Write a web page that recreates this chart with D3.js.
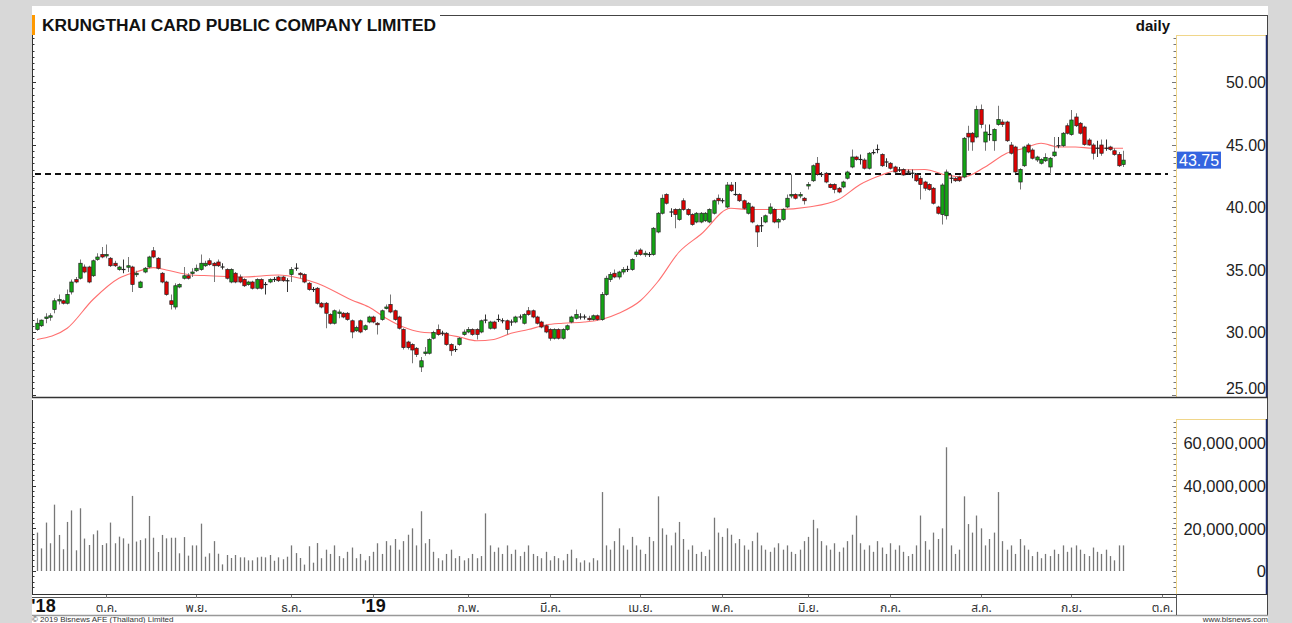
<!DOCTYPE html>
<html><head><meta charset="utf-8">
<script src="https://cdn.jsdelivr.net/npm/d3@7/dist/d3.min.js"></script>
<style>html,body{margin:0;padding:0;background:#d8d8d8;}svg{display:block;}</style>
</head><body>
<svg id="c" width="1292" height="623"></svg>
<script>
const title = "KRUNGTHAI CARD PUBLIC COMPANY LIMITED";
const period = "daily";
const lastPrice = 43.75;
const refLine = 42.64;
const priceTicks = [25, 30, 35, 40, 45, 50];
const volTicks = [0, 20, 40, 60]; // millions
const monthLabels = ["'18","ต.ค.","พ.ย.","ธ.ค.","'19","ก.พ.","มี.ค.","เม.ย.","พ.ค.","มิ.ย.","ก.ค.","ส.ค.","ก.ย.","ต.ค."];
const monthIdx = [1.5,16,37,59,78,100,119,140,159,179,198,219,240,261];
const yearLabel = [true,false,false,false,true,false,false,false,false,false,false,false,false,false];

const open = [
30.2,30.5,31.1,31.2,31.8,32.5,32.5,32.3,33.2,34.2, 34.3,35.2,35.2,34.5,35.8,36.2,36.1,35.9,35.5,35.0,
35.0,35.2,35.2,34.6,33.55,34.8,35.2,36.5,35.9,34.7, 34.0,32.5,32.0,33.6,34.3,34.5,34.7,34.9,35.0,35.3,
35.7,35.5,35.6,35.2,35.0,34.0,34.7,34.4,34.2,33.8, 34.0,33.5,34.2,33.8,34.0,34.2,34.4,34.4,34.1,34.6,
35.1,34.7,34.6,33.9,33.4,33.5,32.3,32.3,31.4,30.7, 31.5,31.5,31.5,30.9,30.1,30.9,30.2,30.8,31.2,30.7,
31.0,31.9,32.2,31.7,31.2,30.2,29.2,29.0,28.7,27.2, 28.3,28.3,29.5,30.2,29.9,29.9,29.0,28.6,29.0,29.8,
30.0,30.2,30.2,30.0,30.9,30.3,30.8,31.0,30.9,30.9, 30.8,30.8,31.2,30.7,31.7,31.7,31.2,30.8,30.5,30.2,
29.5,30.2,29.5,30.2,30.8,31.1,31.2,31.2,31.1,31.0, 31.3,31.0,33.0,34.2,34.7,34.4,34.8,35.0,35.0,36.2,
36.56,36.2,36.2,36.2,38.0,39.5,41.0,39.6,39.8,39.0, 40.5,39.8,39.4,38.8,38.8,38.9,38.8,39.5,40.7,40.5,
40.0,41.76,41.0,41.0,40.5,39.5,40.0,38.5,38.5,38.8, 39.5,39.8,38.8,39.0,40.0,40.9,41.0,40.9,40.7,41.7,
42.1,43.5,42.6,42.7,41.8,41.8,41.5,41.6,42.3,43.2, 44.0,43.8,43.76,43.1,44.3,44.6,44.2,43.6,43.5,43.2,
43.0,43.0,42.8,42.7,42.6,42.3,42.0,41.8,41.5,40.0, 39.4,39.3,42.3,42.3,42.4,42.4,45.9,45.9,45.6,47.8,
45.2,45.8,45.3,46.6,46.8,46.8,44.96,44.8,42.0,43.3, 44.96,44.56,43.76,43.5,43.7,43.2,44.1,44.9,44.9,46.5,
45.8,47.2,46.7,46.4,45.36,44.96,44.7,44.96,44.7,44.8, 44.5,44.2,43.4];
const high = [
31.1,31.0,31.5,31.5,32.7,33.0,32.6,33.4,34.2,34.4, 35.8,35.4,35.3,35.8,36.3,36.8,37.0,36.0,35.7,35.3,
35.8,36.0,35.3,34.9,34.1,35.2,36.1,36.8,36.0,34.8, 34.1,33.0,33.9,33.9,35.2,34.7,35.1,35.4,36.2,35.7,
35.9,35.6,35.8,35.5,35.1,35.1,34.8,34.6,34.3,34.1, 34.1,34.3,34.3,34.0,34.3,34.4,34.5,34.5,34.3,35.2,
35.5,34.8,34.7,34.0,33.6,33.6,32.4,32.4,31.5,31.8, 31.8,31.6,31.6,31.0,30.5,31.0,30.6,31.3,31.3,30.8,
31.8,32.2,33.0,31.8,31.3,30.3,29.3,29.1,28.8,28.0, 28.8,29.5,30.1,30.6,30.1,30.0,29.1,28.9,29.6,30.2,
30.4,30.3,30.3,31.0,31.4,30.9,30.9,31.4,31.1,31.0, 31.0,31.3,31.4,31.5,32.0,31.8,31.3,30.9,30.6,30.3,
30.3,30.3,30.3,30.6,31.3,31.8,31.5,31.4,31.3,31.4, 31.4,33.2,34.5,34.8,35.0,34.9,35.2,35.3,35.9,36.6,
36.7,36.5,36.4,38.4,39.6,41.0,41.1,39.9,39.9,39.9, 40.7,39.9,39.5,39.6,39.6,39.6,39.9,40.6,41.0,40.7,
42.0,42.0,42.0,41.1,40.6,40.4,40.1,38.6,39.2,39.4, 40.3,39.9,39.1,39.9,41.0,42.6,41.1,41.2,40.8,42.0,
43.4,44.0,42.8,42.8,41.9,41.9,41.6,42.1,42.9,44.6, 44.1,44.2,43.9,44.4,44.6,45.0,44.3,43.9,43.6,43.3,
43.2,43.1,43.0,43.0,42.7,42.5,42.1,41.9,41.6,40.1, 41.9,43.0,42.6,42.4,42.5,45.6,46.5,46.0,48.1,48.2,
46.6,46.6,46.3,48.1,47.0,46.9,45.2,44.9,43.1,44.9, 45.1,44.7,44.1,43.9,44.3,44.0,45.6,45.6,46.0,46.7,
47.76,47.5,46.8,46.5,45.5,45.1,45.3,45.4,45.4,44.9, 44.7,44.4,44.5];
const low = [
30.1,30.4,30.7,30.9,31.5,32.2,32.2,32.2,33.0,33.9, 34.2,34.7,33.9,34.4,35.7,35.9,35.9,35.2,35.2,34.9,
34.7,34.8,33.2,34.4,33.5,34.7,35.1,35.9,35.0,33.9, 32.9,31.8,31.8,33.5,34.2,34.2,34.4,34.8,34.9,35.2,
35.3,34.0,35.2,35.0,34.2,33.9,33.9,33.9,33.6,33.7, 33.4,33.4,33.4,33.0,33.9,34.0,34.0,34.0,33.2,34.0,
34.9,34.3,33.9,33.3,33.2,32.2,31.9,30.3,30.6,30.6, 31.1,31.1,30.9,29.5,30.0,29.9,30.1,30.7,30.7,29.8,
30.9,31.8,31.5,30.9,30.2,28.6,28.6,27.5,28.0,26.8, 28.1,28.2,29.4,29.7,29.7,28.9,28.1,28.4,28.9,29.7,
29.9,29.7,29.4,29.9,30.7,30.2,30.2,30.8,30.7,29.8, 30.5,30.7,31.0,30.6,31.3,31.1,30.6,30.3,29.9,29.3,
29.4,29.4,29.4,30.1,30.7,31.0,31.0,31.0,30.9,30.9, 30.9,30.9,32.9,34.0,34.3,34.2,34.6,34.8,34.9,36.0,
36.1,36.0,36.0,36.1,37.9,39.4,40.2,39.2,38.3,38.9, 39.7,39.3,38.5,38.7,38.7,38.8,38.7,39.4,40.2,40.3,
39.9,41.2,40.9,40.4,39.8,39.4,38.7,36.8,38.0,38.7, 39.4,38.7,38.3,38.9,39.9,40.7,40.6,40.7,40.2,41.4,
42.0,42.5,42.4,41.9,41.5,41.1,41.1,41.5,42.2,43.1, 43.7,43.4,43.0,43.0,44.2,44.3,43.2,43.2,43.0,42.7,
42.8,42.5,42.6,42.3,42.0,40.6,41.3,41.3,40.2,39.4, 38.6,39.0,41.9,42.0,42.0,42.3,44.5,44.5,45.5,46.3,
44.5,45.3,44.5,46.5,46.4,45.2,44.2,42.7,41.4,43.2, 44.3,43.8,43.6,43.4,43.6,42.6,44.0,44.7,44.8,45.8,
45.7,46.4,45.8,44.9,44.9,43.8,44.0,44.1,44.5,44.5, 44.1,43.2,43.2];
const close = [
30.7,30.95,31.2,31.3,32.5,32.6,32.3,33.0,34.0,34.0, 35.5,34.8,34.0,35.7,36.0,36.0,36.2,35.3,35.3,35.2,
35.0,35.3,33.8,34.7,34.0,35.1,36.0,36.0,35.1,34.0, 33.0,32.2,33.7,33.8,34.5,34.3,34.8,35.1,35.5,35.5,
35.4,35.3,35.3,35.2,34.3,35.0,34.0,34.0,33.7,34.0, 33.5,34.2,33.5,33.8,34.2,34.2,34.1,34.1,34.1,35.0,
35.1,34.6,34.0,33.4,33.4,32.3,32.0,31.5,30.7,31.7, 31.6,31.2,31.0,30.0,30.35,30.0,30.5,31.2,30.8,30.6,
31.7,32.0,31.6,31.0,30.3,28.75,28.75,28.56,28.2,27.7, 28.4,29.4,29.97,29.8,29.9,29.0,28.5,28.6,29.5,30.0,
30.2,29.8,29.8,30.9,30.95,30.8,30.3,31.0,30.9,30.2, 30.8,31.2,31.2,31.4,31.4,31.2,30.7,30.4,30.0,29.5,
30.2,29.5,30.2,30.5,31.2,31.4,31.2,31.2,31.0,31.3, 31.0,33.0,34.3,34.6,34.4,34.8,35.0,35.0,35.8,36.4,
36.2,36.3,36.2,38.3,39.5,40.7,40.3,39.6,39.4,39.8, 39.8,39.4,38.6,39.5,39.5,39.5,39.8,40.5,40.5,40.5,
41.76,41.3,41.0,40.5,39.9,40.3,38.8,38.0,38.5,39.3, 40.0,38.8,39.0,39.8,40.7,41.0,40.7,41.0,40.5,41.8,
43.3,42.6,42.6,42.0,41.55,41.4,41.2,42.0,42.8,44.0, 43.8,43.8,43.1,44.3,44.35,44.6,43.3,43.6,43.1,42.8,
42.96,42.56,42.8,42.7,42.1,41.8,41.5,41.4,40.3,39.5, 41.76,42.8,42.3,42.1,42.1,45.5,45.6,45.2,47.8,46.6,
46.0,45.8,46.2,47.0,46.6,45.3,44.3,42.8,43.0,44.8, 44.4,43.9,44.0,43.8,43.96,43.9,44.4,44.9,45.9,45.9,
46.96,46.5,45.9,45.0,44.96,44.3,44.7,44.3,44.7,44.6, 44.2,43.3,43.75];
// volume in millions of shares
const volume = [
18.0,10.6,22.7,13,31.1,16.9,10.2,23,28.4,9.7, 29.4,15.2,12.2,17.2,19,12.2,13,22.7,13,16.1,
15.3,12.8,35.2,13.8,14.5,15.3,25.8,15.6,8.9,16.9, 15.3,15.6,15.6,8.3,15.9,7.2,12,12,22.2,6.7,
8.3,14,8.1,3.1,7.5,6.1,7.5,6.4,6.4,5, 5,6.4,6.7,6.4,7.5,4.8,6.4,5.5,6.7,12,
8.4,6.1,3,11.6,3.9,13.1,6,10,8,12, 7,6,9,11,6,8,5,7,9,13,
8,14,12,15,10,14,17,20,12,28, 13,15,9,6,5,8,10,6,7,5,
6,8,6,7,27,12,9,11,8,12, 8,10,7,9,12,8,7,6,9,5,
7,6,5,8,10,6,4,5,4,6, 5,37,12,10,14,20,12,10,16,12,
10,8,16,14,35,20,17,12,18,23, 15,10,12,8,9,7,10,25,18,16,
20,17,13,15,12,10,14,18,12,10, 9,11,13,10,12,9,8,10,14,16,
24,20,14,12,10,13,9,11,14,17, 26,13,10,12,9,14,11,8,13,10,
12,9,7,8,12,26,14,10,18,15, 20,58,12,8,10,35,22,18,26,20,
12,15,18,37,14,10,12,8,15,12, 10,7,9,6,8,7,10,8,12,9,
11,12,10,8,7,11,9,8,10,7, 5,12,12];
// moving average: [candle index, value]
const maPoints = [[0,29.4],[7,30.3],[13,32.6],[19,34.3],[23,34.8],[27,35.15],[30,34.96],[36,34.56],[40,34.5],[48,34.4],
[56,34.56],[61,34.3],[65,33.9],[73,32.56],[77,32.0],[81,31.1],[85,30.4],[89,30.0],[93,29.9],[98,29.6],[102,29.3],
[106,29.4],[110,29.9],[114,30.2],[118,30.56],[122,30.7],[127,30.8],[131,31.0],[135,31.5],[140,32.5],[144,34.0],
[149,36.4],[154,37.8],[161,39.9],[165,39.8],[172,39.8],[179,40.0],[186,40.6],[191,41.8],[196,42.56],[200,42.96],
[206,43.0],[211,42.56],[215,42.4],[220,43.2],[225,44.3],[229,44.7],[233,45.1],[237,44.8],[241,44.8],[245,44.7],[252,44.7]];

const svg = d3.select("#c");
const W = 1292, H = 623;
const L = 32, R = 1268, AX = 1176;
const pTop = 35, pBot = 397, vTop = 400, vBot = 594, xBot = 615;
const FONT = '"Liberation Sans", Arial, sans-serif';
const THAI = 'Tahoma, "Noto Sans Thai", "Noto Sans", "Liberation Sans", sans-serif';

svg.append("rect").attr("width", W).attr("height", H).attr("fill", "#d8d8d8");
svg.append("rect").attr("x", L).attr("y", 6).attr("width", R - L).attr("height", H - 6).attr("fill", "#fff");

const n = close.length;
const x = d3.scaleLinear().domain([0, n - 1]).range([37, 1123]);
const yP = d3.scaleLinear().domain([25, 50]).range([394.5, 82]);
const yV = d3.scaleLinear().domain([0, 60]).range([571, 443]);

// title
svg.append("rect").attr("x", 32).attr("y", 15).attr("width", 3).attr("height", 20).attr("fill", "#ff9900");
svg.append("text").attr("x", 42).attr("y", 31).attr("font-family", FONT).attr("font-weight", "bold")
  .attr("font-size", 16).attr("textLength", 394).attr("lengthAdjust", "spacingAndGlyphs").attr("fill", "#111").text(title);
svg.append("text").attr("x", 1170).attr("y", 31).attr("text-anchor", "end").attr("font-family", FONT)
  .attr("font-weight", "bold").attr("font-size", 15).attr("fill", "#111").text(period);
svg.append("line").attr("x1", 440).attr("x2", R).attr("y1", 15.5).attr("y2", 15.5).attr("stroke", "#444");
svg.append("line").attr("x1", R - 0.5).attr("x2", R - 0.5).attr("y1", 15).attr("y2", xBot).attr("stroke", "#444");

// ---------- price panel ----------
const gP = svg.append("g");
gP.append("line").attr("x1", L + 0.5).attr("x2", L + 0.5).attr("y1", pTop).attr("y2", pBot).attr("stroke", "#333");
d3.range(25, 53.6, 0.5).forEach(v => {
  const major = Math.abs(v % 5) < 1e-6;
  gP.append("line").attr("x1", L).attr("x2", L + (major ? 4 : 2.5)).attr("y1", Math.round(yP(v)) + 0.5).attr("y2", Math.round(yP(v)) + 0.5).attr("stroke", "#333");
  gP.append("line").attr("x1", AX - (major ? 4 : 2.5)).attr("x2", AX).attr("y1", Math.round(yP(v)) + 0.5).attr("y2", Math.round(yP(v)) + 0.5).attr("stroke", "#777");
});
gP.append("line").attr("x1", AX + 0.5).attr("x2", AX + 0.5).attr("y1", pTop).attr("y2", pBot).attr("stroke", "#f0d68a");
gP.append("line").attr("x1", AX).attr("x2", R - 1).attr("y1", pTop + 0.5).attr("y2", pTop + 0.5).attr("stroke", "#f0d68a");
gP.append("line").attr("x1", R - 1.5).attr("x2", R - 1.5).attr("y1", pTop).attr("y2", pBot).attr("stroke", "#1c2a6e").attr("stroke-width", 1.5);

const axP = d3.axisLeft(yP).tickValues(priceTicks).tickFormat(d3.format(".2f")).tickSize(0).tickPadding(0);
const gAxP = gP.append("g").attr("transform", `translate(${R - 2},0)`).call(axP);
gAxP.select(".domain").remove();
gAxP.selectAll("text").attr("font-family", FONT).attr("font-size", 16).attr("fill", "#222")
  .attr("dy", "0.35em").attr("y", d => d === 25 ? -7 : 0);

gP.append("line").attr("x1", 35).attr("x2", 1168).attr("y1", yP(refLine)).attr("y2", yP(refLine))
  .attr("stroke", "#111").attr("stroke-width", 2).attr("stroke-dasharray", "6,4");

const maLine = d3.line().x(d => x(d[0])).y(d => yP(d[1])).curve(d3.curveMonotoneX);
gP.append("path").attr("d", maLine(maPoints)).attr("fill", "none").attr("stroke", "#ff7070").attr("stroke-width", 1.1);

const idx = d3.range(n);
const gC = gP.append("g");
gC.selectAll("line.w").data(idx).join("line").attr("class", "w")
  .attr("x1", i => Math.round(x(i)) + 0.5).attr("x2", i => Math.round(x(i)) + 0.5)
  .attr("y1", i => yP(high[i])).attr("y2", i => yP(low[i]))
  .attr("stroke", i => Math.abs(open[i] - close[i]) < 0.06 ? "#333" : "#777").attr("stroke-width", 1);
gC.selectAll("rect.b").data(idx.filter(i => Math.abs(open[i] - close[i]) >= 0.06)).join("rect").attr("class", "b")
  .attr("x", i => Math.round(x(i)) - 1.2).attr("width", 3.4)
  .attr("y", i => yP(Math.max(open[i], close[i])))
  .attr("height", i => Math.max(1.5, yP(Math.min(open[i], close[i])) - yP(Math.max(open[i], close[i]))))
  .attr("fill", i => close[i] > open[i] ? "#14a514" : "#e00000")
  .attr("stroke", "#222").attr("stroke-width", 0.7);
gC.selectAll("line.d").data(idx.filter(i => Math.abs(open[i] - close[i]) < 0.06)).join("line").attr("class", "d")
  .attr("x1", i => Math.round(x(i)) - 1.5).attr("x2", i => Math.round(x(i)) + 2.5)
  .attr("y1", i => yP(close[i])).attr("y2", i => yP(close[i])).attr("stroke", "#222").attr("stroke-width", 1.2);

gP.append("rect").attr("x", AX + 1).attr("y", yP(lastPrice) - 8.5).attr("width", 44).attr("height", 17).attr("fill", "#3465e0");
gP.append("text").attr("x", AX + 3).attr("y", yP(lastPrice)).attr("dy", "0.36em").attr("font-family", FONT)
  .attr("font-size", 16).attr("fill", "#fff").text(lastPrice.toFixed(2));

svg.append("line").attr("x1", L).attr("x2", R).attr("y1", pBot + 0.5).attr("y2", pBot + 0.5).attr("stroke", "#333").attr("stroke-width", 1.5);

// ---------- volume panel ----------
const gV = svg.append("g");
gV.append("line").attr("x1", L + 0.5).attr("x2", L + 0.5).attr("y1", vTop).attr("y2", vBot).attr("stroke", "#333");
d3.range(-10, 72, 2.5).forEach(v => {
  const yy = yV(v); if (yy < vTop + 2 || yy > vBot - 2) return;
  const major = Math.abs(v % 20) < 1e-6;
  gV.append("line").attr("x1", L).attr("x2", L + (major ? 4 : 2.5)).attr("y1", Math.round(yy) + 0.5).attr("y2", Math.round(yy) + 0.5).attr("stroke", "#333");
  if (yy > 419) gV.append("line").attr("x1", AX - (major ? 4 : 2.5)).attr("x2", AX).attr("y1", Math.round(yy) + 0.5).attr("y2", Math.round(yy) + 0.5).attr("stroke", "#777");
});
gV.append("line").attr("x1", AX + 0.5).attr("x2", AX + 0.5).attr("y1", 419).attr("y2", vBot).attr("stroke", "#f0d68a");
gV.append("line").attr("x1", AX).attr("x2", R - 1).attr("y1", 419.5).attr("y2", 419.5).attr("stroke", "#f0d68a");
gV.append("line").attr("x1", R - 1.5).attr("x2", R - 1.5).attr("y1", 419).attr("y2", vBot).attr("stroke", "#1c2a6e").attr("stroke-width", 1.5);

const axV = d3.axisLeft(yV).tickValues(volTicks).tickFormat(d => d3.format(",")(d * 1e6)).tickSize(0).tickPadding(0);
const gAxV = gV.append("g").attr("transform", `translate(${R - 2},0)`).call(axV);
gAxV.select(".domain").remove();
gAxV.selectAll("text").attr("font-family", FONT).attr("font-size", 16.5).attr("fill", "#222").attr("dy", "0.35em");

gV.selectAll("line.v").data(idx).join("line").attr("class", "v")
  .attr("x1", i => Math.round(x(i)) + 0.5).attr("x2", i => Math.round(x(i)) + 0.5)
  .attr("y1", yV(0)).attr("y2", i => yV(volume[i])).attr("stroke", "#777").attr("stroke-width", 1.3);

// ---------- time axis ----------
const gX = svg.append("g");
gX.append("line").attr("x1", L).attr("x2", R).attr("y1", vBot + 0.5).attr("y2", vBot + 0.5).attr("stroke", "#333");
gX.append("line").attr("x1", L).attr("x2", AX).attr("y1", vBot + 3.5).attr("y2", vBot + 3.5).attr("stroke", "#555");
gX.append("line").attr("x1", L).attr("x2", R).attr("y1", xBot + 0.5).attr("y2", xBot + 0.5).attr("stroke", "#999").attr("stroke-width", 1.5);
gX.append("line").attr("x1", AX + 0.5).attr("x2", AX + 0.5).attr("y1", vBot).attr("y2", xBot).attr("stroke", "#555");
monthIdx.forEach((m, k) => {
  const xx = Math.round(x(m)) + 0.5;
  if (k > 0) gX.append("line").attr("x1", xx).attr("x2", xx).attr("y1", vBot + 1).attr("y2", vBot + 4).attr("stroke", "#777");
  gX.append("text").attr("x", xx).attr("y", 612).attr("text-anchor", "middle")
    .attr("font-family", yearLabel[k] ? FONT : THAI).attr("font-weight", yearLabel[k] ? "bold" : "normal")
    .attr("font-size", yearLabel[k] ? 18 : 12).attr("fill", yearLabel[k] ? "#111" : "#333").text(monthLabels[k]);
});

// footer (small so it fits under the axis strip)
svg.append("text").attr("x", 32).attr("y", 622).attr("font-family", FONT).attr("font-size", 8).attr("fill", "#333").text("© 2019 Bisnews AFE (Thailand) Limited");
svg.append("text").attr("x", 1268).attr("y", 622).attr("text-anchor", "end").attr("font-family", FONT).attr("font-size", 8).attr("fill", "#333").text("www.bisnews.com");
</script>
</body></html>
